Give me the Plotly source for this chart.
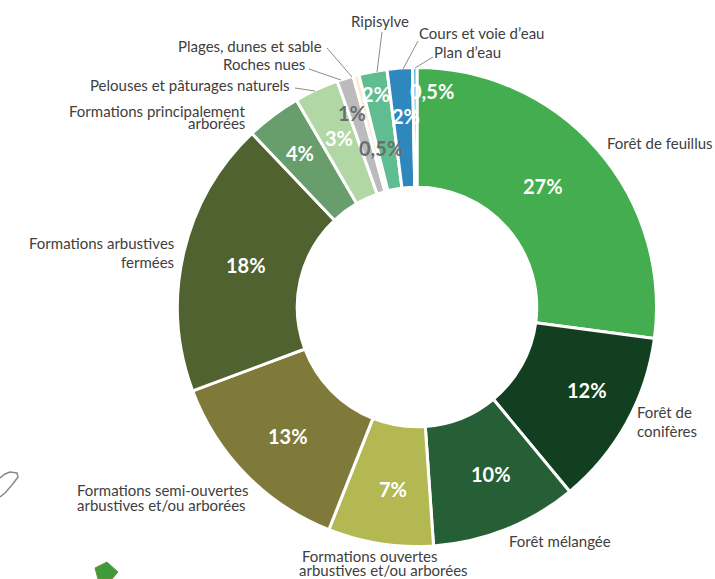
import plotly.graph_objects as go

W, H = 715, 579
CX, CY, R = 417, 307, 239.5

categories = ["Forêt de feuillus", "Forêt de conifères", "Forêt mélangée",
              "Formations ouvertes arbustives et/ou arborées",
              "Formations semi-ouvertes arbustives et/ou arborées",
              "Formations arbustives fermées", "Formations principalement arborées",
              "Pelouses et pâturages naturels", "Roches nues", "Plages, dunes et sable",
              "Ripisylve", "Cours et voie d’eau", "Plan d’eau"]
# shares as measured from the slice angles; the printed labels are rounded
values = [27.1, 11.9, 9.9, 7.1, 13.3, 18.6, 3.7, 3.0, 1.1, 0.4, 1.9, 1.7, 0.3]
colors = ["#43AD50", "#113F20", "#265E36", "#B4B852", "#807A3A", "#50622F", "#679E6C",
          "#B1D8A4", "#BBBBBD", "#F9EDC9", "#60BD91", "#2E88BE", "#56B4E0"]

value_labels = [("27%", 543, 186, "white"), ("12%", 587, 390, "white"), ("10%", 491, 474, "white"),
                ("7%", 393, 489, "white"), ("13%", 288, 436, "white"), ("18%", 246, 265, "white"),
                ("4%", 300, 153, "white"), ("3%", 339, 138, "white"), ("1%", 352, 113, "#6D6D70"),
                ("0,5%", 381, 148, "#6D6D70"), ("2%", 376, 94, "white"), ("2%", 406, 116, "white"),
                ("0,5%", 432, 91, "white")]

# (text, anchor x px, centre y px, xanchor) one entry per printed line
cat_labels = [("Forêt de feuillus", 607, 143, "left"),
              ("Forêt de", 637, 412, "left"),
              ("conifères", 637, 431, "left"),
              ("Forêt mélangée", 509, 541, "left"),
              ("Formations ouvertes", 302, 556, "left"),
              ("arbustives et/ou arborées", 299, 570, "left"),
              ("Formations semi-ouvertes", 77, 490, "left"),
              ("arbustives et/ou arborées", 77, 505, "left"),
              ("Formations arbustives", 174, 243, "right"),
              ("fermées", 174, 262, "right"),
              ("Formations principalement", 245, 111, "right"),
              ("arborées", 245, 123, "right"),
              ("Pelouses et pâturages naturels", 290, 85, "right"),
              ("Roches nues", 305, 64, "right"),
              ("Plages, dunes et sable", 322, 46, "right"),
              ("Ripisylve", 351, 21, "left"),
              ("Cours et voie d’eau", 419, 33, "left"),
              ("Plan d’eau", 434, 52, "left")]

leaders = [[(295, 88), (315, 91)],
           [(309, 69), (341, 80)],
           [(327, 48), (352, 77)],
           [(382, 32), (377, 72)],
           [(418, 41), (403, 69)],
           [(433, 57), (415, 68)]]

# background scraps of a map that show at the lower left of the picture
scrap_outline = [(0, 478), (5, 474), (10, 472), (17, 473), (18, 477), (12, 485), (5, 493), (0, 497)]
scrap_green = [(95, 568), (107, 562), (118, 572), (112, 579), (98, 579)]


def px(x):
    return x / W


def py(y):
    return 1 - y / H


def path(points, close=False):
    d = "M " + " L ".join(f"{px(x):.5f},{py(y):.5f}" for x, y in points)
    return d + (" Z" if close else "")


fig = go.Figure(go.Pie(
    labels=categories, values=values, hole=0.5, sort=False, direction="clockwise",
    rotation=0, textinfo="none", hoverinfo="label+percent", showlegend=False,
    marker=dict(colors=colors, line=dict(color="white", width=3)),
    domain=dict(x=[px(CX - R), px(CX + R)], y=[py(CY + R), py(CY - R)]),
))

annotations = []
for text, x, y, color in value_labels:
    annotations.append(dict(text=f"<b>{text}</b>", x=px(x), y=py(y), xref="paper", yref="paper",
                            showarrow=False, xanchor="center", yanchor="middle",
                            font=dict(family="Lato", size=20, color=color)))
for text, x, y, anchor in cat_labels:
    annotations.append(dict(text=text, x=px(x), y=py(y), xref="paper", yref="paper",
                            showarrow=False, xanchor=anchor, yanchor="middle",
                            borderpad=0, borderwidth=0,
                            font=dict(family="Lato", size=15, color="#404040")))

shapes = []
for (a, b) in leaders:
    shapes.append(dict(type="line", xref="paper", yref="paper", x0=px(a[0]), y0=py(a[1]),
                       x1=px(b[0]), y1=py(b[1]), line=dict(color="#8C8C8C", width=1)))
shapes.append(dict(type="path", xref="paper", yref="paper", path=path(scrap_outline),
                   line=dict(color="#8A8A8A", width=1.5)))
shapes.append(dict(type="path", xref="paper", yref="paper", path=path(scrap_green, True),
                   fillcolor="#3F9A3A", line=dict(color="#7C8C3A", width=1)))

fig.update_layout(width=W, height=H, margin=dict(l=0, r=0, t=0, b=0),
                  paper_bgcolor="white", plot_bgcolor="white",
                  annotations=annotations, shapes=shapes, showlegend=False)
fig.write_html("out.html", config=dict(displayModeBar=False),
               post_script="document.body.style.margin='0';")
